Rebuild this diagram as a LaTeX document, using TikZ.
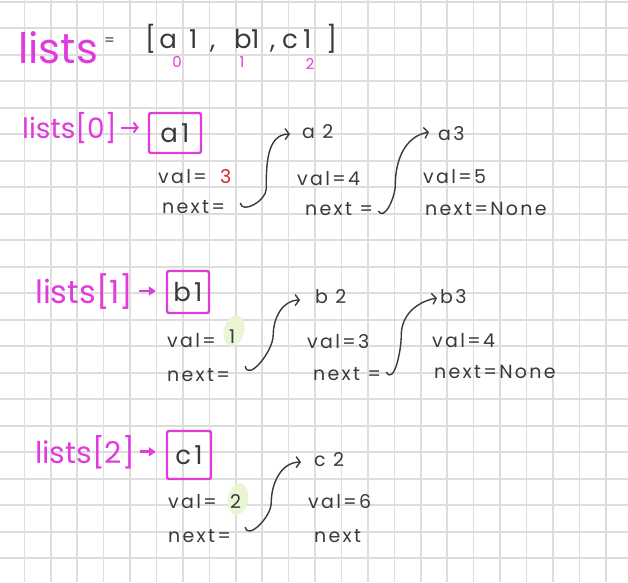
\documentclass[tikz,border=0pt]{standalone}
\usepackage{fontspec}
\usepackage{tikz}
\usetikzlibrary{shapes,arrows.meta}

\newfontfamily\hand[LetterSpace=12]{Poppins}
\newfontfamily\handn{Poppins}
\definecolor{pen}{HTML}{3A3A3A}
\definecolor{mag}{HTML}{E03CDC}
\definecolor{redink}{HTML}{E8221E}
\definecolor{lime}{HTML}{E9F5D3}
\definecolor{gridgray}{HTML}{DDDDDD}

\tikzset{
	gridline/.style={draw=gridgray, line width=1.6pt},
	txt/.style={anchor=base west, inner sep=0pt, text=pen, font=\hand\fontsize{19}{19}\selectfont},
	ptxt/.style={txt, text=mag, font=\handn\fontsize{28}{28}\selectfont},
	bigtxt/.style={txt, font=\hand\fontsize{26}{26}\selectfont},
	idx/.style={txt, anchor=base, text=mag, font=\handn\fontsize{15}{15}\selectfont},
	headbox/.style={draw=mag, line width=2.4pt, rounded corners=2pt, inner sep=0pt, text=pen, font=\hand\fontsize{26}{26}\selectfont},
	hl/.style={ellipse, fill=lime, inner sep=0pt, minimum width=20pt, minimum height=32pt, rotate=-15},
	link/.style={draw=pen, line width=1.4pt, -{Straight Barb[length=4pt,width=11pt]}},
	parrow/.style={draw=mag, line width=2pt, -{Straight Barb[length=4pt,width=10pt]}, shorten <=4pt, shorten >=9pt},
	parrowf/.style={draw=mag, line width=2.6pt, -{Triangle[length=7pt,width=9pt]}, shorten <=5pt, shorten >=10pt}
}

\begin{document}
\begin{tikzpicture}[x=1pt,y=-1pt]
	\useasboundingbox[fill=white] (0,0) rectangle (628,582);
	% grid paper
	\foreach \i in {0,...,22}
		\draw[gridline] ({24.3+26.43*\i},0) -- ({24.3+26.43*\i},582);
	\foreach \j in {0,...,21}
		\draw[gridline] (0,{1.7+26.5*\j}) -- (628,{1.7+26.5*\j});

	% lists = [a1, b1, c1]
	\node[ptxt, font=\handn\fontsize{42}{42}\selectfont] (lists) at (18,63) {lists};
	\node[txt, font=\hand\fontsize{15}{15}\selectfont] (eq) at (104,45) {=};
	\node[bigtxt] (arr0) at (145,48) {[a};
	\node[bigtxt] (arr1) at (189,48) {1};
	\node[bigtxt] (cm1) at (210,48) {,};
	\node[bigtxt] (arr2) at (234,48) {b};
	\node[bigtxt] (arr3) at (251,48) {1};
	\node[bigtxt] (cm2) at (270,48) {,};
	\node[bigtxt] (arr4) at (282,48) {c};
	\node[bigtxt] (arr5) at (303,48) {1};
	\node[bigtxt] (arr6) at (326,48) {]};
	\node[idx] (i0) at (177,67) {0};
	\node[idx] (i1) at (242,67) {1};
	\node[idx] (i2) at (310,69) {2};

	% lists[0]
	\node[ptxt] (la) at (22,138) {lists[0]};
	\node[headbox, minimum width=52pt, minimum height=40pt] (a1) at (175,133) {a1};
	\draw[parrow] (la.east) -- (la.east -| a1.west);
	\node[txt] (va1) at (158,183) {val=};
	\node[txt, text=redink] (v3) at (220,183) {3};
	\node[txt] (na1) at (162,213) {next=};
	\node[txt] (a2) at (302,138) {a 2};
	\node[txt] (va2) at (297,185) {val=4};
	\node[txt] (na2) at (305,215) {next =};
	\node[txt] (a3) at (438,140) {a3};
	\node[txt] (va3) at (423,183) {val=5};
	\node[txt] (na3) at (425,215) {next=None};
	\draw[link] ([shift={(15,-10)}]na1.base east) to[out=-80,in=-90] +(26,-14) to[out=90,in=180] ([shift={(-12,3)}]a2.west);
	\draw[link] ([shift={(5,-4)}]na2.base east) to[out=-60,in=-90] +(17,-26) to[out=90,in=190] ([shift={(-9,-1)}]a3.west);

	% lists[1]
	\node[ptxt, font=\handn\fontsize{32}{32}\selectfont] (lb) at (35,303) {lists[1]};
	\node[headbox, minimum width=42pt, minimum height=42pt] (b1) at (188,292) {b1};
	\draw[parrowf] (lb.east) -- (lb.east -| b1.west);
	\node[txt] (vb1) at (167,347) {val=};
	\node[hl] (hl1) at (234,331) {};
	\node[txt] (v1) at (229,343) {1};
	\node[txt] (nb1) at (167,381) {next=};
	\node[txt] (b2) at (315,303) {b 2};
	\node[txt] (vb2) at (307,348) {val=3};
	\node[txt] (nb2) at (313,380) {next =};
	\node[txt] (b3) at (440,303) {b3};
	\node[txt] (vb3) at (432,347) {val=4};
	\node[txt] (nb3) at (434,378) {next=None};
	\draw[link] ([shift={(15,-15)}]nb1.base east) to[out=-80,in=-90] +(28,-31) to[out=90,in=180] ([shift={(-15,4)}]b2.west);
	\draw[link] ([shift={(5,-8)}]nb2.base east) to[out=-60,in=-90] +(15,-37) to[out=90,in=190] ([shift={(-3,2)}]b3.west);

	% lists[2]
	\node[ptxt, font=\handn\fontsize{30}{30}\selectfont] (lc) at (35,463) {lists[2]};
	\node[headbox, minimum width=44pt, minimum height=48pt] (c1) at (189,455) {c1};
	\draw[parrowf] (lc.east) -- (lc.east -| c1.west);
	\node[txt] (vc1) at (168,508) {val=};
	\node[hl, rotate=5] (hl2) at (238,499) {};
	\node[txt] (v2) at (230,508) {2};
	\node[txt] (nc1) at (168,542) {next=};
	\node[txt] (c2) at (314,466) {c 2};
	\node[txt] (vc2) at (308,508) {val=6};
	\node[txt] (nc2) at (314,542) {next};
	\draw[link] ([shift={(14,-15)}]nc1.base east) to[out=-80,in=-90] +(26,-24) to[out=90,in=180] ([shift={(-13,3)}]c2.west);
\end{tikzpicture}
\end{document}
